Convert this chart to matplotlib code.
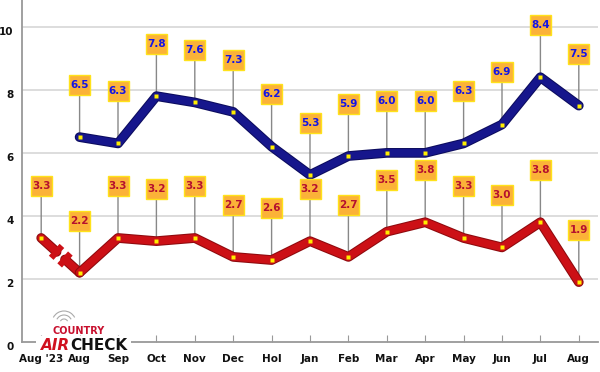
import matplotlib
matplotlib.use("Agg")
import matplotlib.pyplot as plt
import matplotlib.patheffects as pe
from matplotlib.patches import Arc
from matplotlib.path import Path
import numpy as np

categories = ["Aug '23", "Aug", "Sep", "Oct", "Nov", "Dec", "Hol", "Jan",
              "Feb", "Mar", "Apr", "May", "Jun", "Jul", "Aug"]
blue_vals = [None, 6.5, 6.3, 7.8, 7.6, 7.3, 6.2, 5.3, 5.9, 6.0, 6.0, 6.3, 6.9, 8.4, 7.5]
red_vals = [3.3, 2.2, 3.3, 3.2, 3.3, 2.7, 2.6, 3.2, 2.7, 3.5, 3.8, 3.3, 3.0, 3.8, 1.9]
yticks = [0, 2, 4, 6, 8, 10]

fig = plt.figure(figsize=(6.0, 3.72), dpi=100)
ax = fig.add_axes([22/600, 30/372, 576/600, 342/372])
ax.set_xlim(-0.5, 14.5)
ax.set_ylim(0, 10.85)

x = np.arange(len(categories))

for yv in yticks[1:]:
    ax.axhline(yv, color="#dddddd", lw=1.4, zorder=0)

for s in ["top", "right"]:
    ax.spines[s].set_visible(False)
for s in ["left", "bottom"]:
    ax.spines[s].set_color("#999999")
    ax.spines[s].set_linewidth(1.3)

ax.set_xticks(x)
ax.set_xticklabels(categories, fontsize=7.5, fontweight="bold", color="#111111")
ax.tick_params(axis="x", direction="in", length=5, color="#999999", pad=9)
ax.set_yticks(yticks)
ax.set_yticklabels([str(v) for v in yticks], fontsize=7.5, fontweight="bold", color="#111111")
ax.tick_params(axis="y", length=0, pad=6)
for lbl in ax.get_yticklabels():
    lbl.set_va("top")

off_pt = 37.5


def fixed_box(x0, y0, width, height, mutation_size):
    cx = x0 + width / 2
    cy = y0 + height / 2
    w, h = 21, 20
    verts = [(cx - w/2, cy - h/2), (cx + w/2, cy - h/2), (cx + w/2, cy + h/2),
             (cx - w/2, cy + h/2), (cx - w/2, cy - h/2)]
    return Path(verts, closed=True)


def draw_series(xs, ys, color, edge, txtcolor, gap_first=False):
    xs = np.array(xs, float)
    ys = np.array(ys, float)
    lw = 5.5
    peff = [pe.Stroke(linewidth=7, foreground=edge), pe.Normal()]
    if gap_first:
        x0, y0, x1, y1 = xs[0], ys[0], xs[1], ys[1]
        a, b = 0.40, 0.62
        ax.plot([x0, x0 + a*(x1-x0)], [y0, y0 + a*(y1-y0)], color=color, lw=lw,
                solid_capstyle="round", zorder=3, path_effects=peff)
        ax.plot([x0 + b*(x1-x0), x1], [y0 + b*(y1-y0), y1], color=color, lw=lw,
                solid_capstyle="round", zorder=3, path_effects=peff)
        p1 = ax.transData.transform((x0, y0))
        p2 = ax.transData.transform((x1, y1))
        d = (p2 - p1) / np.linalg.norm(p2 - p1)
        n = np.array([-d[1], d[0]])
        for t in (a, b):
            c = ax.transData.transform((x0 + t*(x1-x0), y0 + t*(y1-y0)))
            q1 = ax.transData.inverted().transform(c + n*8)
            q2 = ax.transData.inverted().transform(c - n*8)
            ax.plot([q1[0], q2[0]], [q1[1], q2[1]], color=color, lw=4.5,
                    solid_capstyle="butt", zorder=3.5)
        ax.plot(xs[1:], ys[1:], color=color, lw=lw, solid_capstyle="round",
                solid_joinstyle="round", zorder=3, path_effects=peff)
    else:
        ax.plot(xs, ys, color=color, lw=lw, solid_capstyle="round",
                solid_joinstyle="round", zorder=3, path_effects=peff)
    ax.plot(xs, ys, ls="none", marker="s", ms=3.2, mfc="#ffee00", mec="none", zorder=4)
    for xi, yi in zip(xs, ys):
        ax.annotate("", xy=(xi, yi), xytext=(0, off_pt), textcoords="offset points",
                    arrowprops=dict(arrowstyle="-", color="#888888", lw=1,
                                    shrinkA=0, shrinkB=0), zorder=2)
        ax.annotate(f"{yi:.1f}", xy=(xi, yi), xytext=(0, off_pt), textcoords="offset points",
                    ha="center", va="center", fontsize=7.5, fontweight="bold",
                    color=txtcolor, zorder=5,
                    bbox=dict(boxstyle=fixed_box, fc="#fbb238", ec="#ffe21a", lw=1))


bx = [xi for xi, v in zip(x, blue_vals) if v is not None]
by = [v for v in blue_vals if v is not None]
draw_series(bx, by, "#16168c", "#0c0c5e", "#1414e6")
draw_series(x, red_vals, "#cc1016", "#8e0a0e", "#b5102e", gap_first=True)

# logo
fig.patches.append(plt.Rectangle((36/600, 22/372), 95/600, 14/372, transform=fig.transFigure,
                                 fc="white", ec="none", zorder=10))
fig.text(79/600, 1 - 334.5/372, "COUNTRY", fontsize=7, fontweight="bold", color="#c8102e",
         ha="center", va="baseline", zorder=11)
fig.text(41/600, 1 - 350/372, "AIR", fontsize=11, fontweight="bold", color="#d0101e",
         ha="left", va="baseline", style="italic", zorder=11)
fig.text(70/600, 1 - 350/372, "CHECK", fontsize=11, fontweight="bold", color="#111111",
         ha="left", va="baseline", zorder=11)
for r in (4, 8, 12):
    fig.patches.append(Arc((64/600, 1 - 323/372), 2*r/600, 2*r/372, theta1=40, theta2=140,
                           transform=fig.transFigure, color="#aaaaaa", lw=0.8, zorder=11))

fig.savefig("out.png", dpi=100)
